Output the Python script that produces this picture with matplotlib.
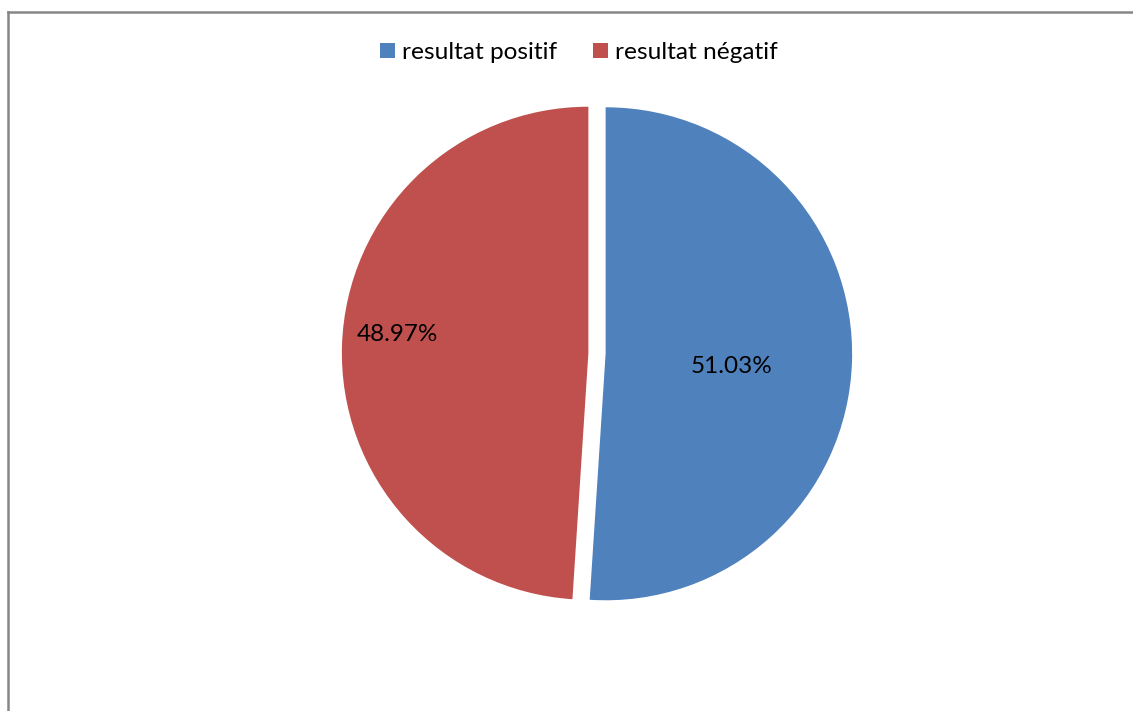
import matplotlib
matplotlib.use("Agg")
import matplotlib.pyplot as plt
from matplotlib.lines import Line2D
import numpy as np

# Data
categories = ["resultat positif", "resultat négatif"]
shares = [51.03, 48.97]
colors = ["#4F81BD", "#C0504D"]

# Label placement (radius as fraction of pie radius, angle in degrees)
label_radius = [0.550, 0.813]
label_angle = [-5.3, 174.7]

W, H = 1133, 711
R_PX = 246.5          # pie radius in pixels
CX, CY = 597, 353.5   # pie centre in pixels (from top-left)

plt.rcParams["font.family"] = ["Lato", "DejaVu Sans"]

fig = plt.figure(figsize=(W / 100, H / 100), dpi=100)
ax = fig.add_axes([0, 0, 1, 1])

wedges, texts, autotexts = ax.pie(
    shares,
    colors=colors,
    startangle=90,
    counterclock=False,
    explode=[0.035, 0.035],
    radius=1.0,
    autopct=lambda p: f"{p:.2f}%",
    wedgeprops=dict(linewidth=0),
    textprops=dict(fontsize=17.5, color="black"),
)

for t, r, a in zip(autotexts, label_radius, label_angle):
    t.set_position((r * np.cos(np.radians(a)), r * np.sin(np.radians(a))))
    t.set_va("center")
    t.set_ha("center")

ax.set_xlim(-CX / R_PX, (W - CX) / R_PX)
ax.set_ylim(-(H - CY) / R_PX, CY / R_PX)
ax.set_aspect("auto")
ax.axis("off")

leg = ax.legend(
    wedges, categories,
    loc="upper center", bbox_to_anchor=(579 / W, 1 - 25 / H),
    bbox_transform=fig.transFigure,
    ncol=2, frameon=False, fontsize=17.6,
    handlelength=0.6, handleheight=0.6, handletextpad=0.3,
    columnspacing=1.45, borderpad=0.2,
)

# Chart-area border (top and left edges)
border_color = "#868686"
fig.add_artist(Line2D([7.5 / W, 1.0], [1 - 11.5 / H, 1 - 11.5 / H],
                      transform=fig.transFigure, color=border_color, lw=1.8))
fig.add_artist(Line2D([7.5 / W, 7.5 / W], [0.0, 1 - 11.5 / H],
                      transform=fig.transFigure, color=border_color, lw=1.8))

fig.savefig("out.png", dpi=100)
